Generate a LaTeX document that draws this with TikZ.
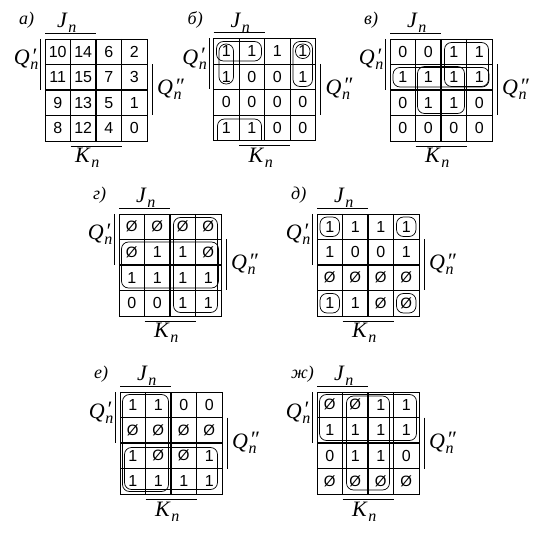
\documentclass[tikz,border=0pt]{standalone}
\usepackage{fontspec}
\setmainfont{Liberation Serif}
\newfontfamily\cellfont{Liberation Sans}
\newcommand{\E}{{\fontsize{15}{15}\selectfont Ø}}
\newcommand{\subn}{\raisebox{-5pt}{\fontsize{16}{16}\selectfont\textit{n}}}
\newcommand{\Jlab}{\textit{J}\kern0.5pt\subn}
\newcommand{\Klab}{\textit{K}\kern0.5pt\subn}
\newcommand{\Qa}{\textit{Q}\rlap{\kern1.5pt\raisebox{1.5pt}{\textit{′}}}\kern0.5pt\subn}
\newcommand{\Qb}{\textit{Q}\rlap{\kern1.5pt\raisebox{1.5pt}{\textit{″}}}\kern0.5pt\subn}
\tikzset{
  gthin/.style={line width=0.8pt},
  gthick/.style={line width=1.8pt},
  barst/.style={line width=0.9pt},
  loopst/.style={line width=0.7pt, rounded corners=7pt},
  cellv/.style={inner sep=0pt, font=\cellfont\fontsize{16}{16}\selectfont},
  lbl/.style={inner sep=0pt, font=\fontsize{22}{22}\selectfont},
  tag/.style={inner sep=0pt, font=\fontsize{18}{18}\selectfont\itshape}
}
% #1 ox, #2 oy, #3 prefix, #4 tag, #5 J/K shift, #6 values
\newcommand{\kmap}[6]{%
\begin{scope}[shift={(#1,#2)}]
  \draw[gthin] (0,0) rectangle (102,102);
  \foreach \k in {1,3} {
    \draw[gthin] (\k*25.5,0) -- (\k*25.5,102);
    \draw[gthin] (0,\k*25.5) -- (102,\k*25.5);
  }
  \draw[gthick] (51,0) -- (51,102);
  \draw[gthick] (0,51) -- (102,51);
  \foreach \v [count=\i from 0] in {#6} {
    \pgfmathtruncatemacro\rr{floor(\i/4)}
    \pgfmathtruncatemacro\cc{\i-4*\rr}
    \node[cellv] (#3-\i) at ({\cc*25.5+12.75},{\rr*25.5+12.75}) {\v};
  }
  \draw[barst] (0,-6) -- (51,-6);
  \draw[barst] (-4.5,0) -- (-4.5,51);
  \draw[barst] (107,25.5) -- (107,76.5);
  \draw[barst] (25.5,107) -- (76.5,107);
  \node[tag, anchor=base west] (#3-tag) at (-26,-14) {#4)};
  \node[lbl, anchor=base west] (#3-J) at ({17+#5},-11) {\Jlab};
  \node[lbl, anchor=base east] (#3-Q1) at (-6.5,26) {\Qa};
  \node[lbl, anchor=base west] (#3-Q2) at (112,56) {\Qb};
  \node[lbl, anchor=base west] (#3-K) at ({35+#5},124) {\Klab};
\end{scope}}
% loop: #1 ox #2 oy #3 c1 #4 r1 #5 c2 #6 r2 #7 inset
\newcommand{\lp}[7]{%
  \draw[loopst] ({#1+#3*25.5+#7},{#2+#4*25.5+#7}) rectangle ({#1+(#5+1)*25.5-#7},{#2+(#6+1)*25.5-#7});}
\begin{document}
\begin{tikzpicture}[x=1pt,y=-1pt]
\useasboundingbox (0,0) rectangle (546,534);
\fill[white] (0,0) rectangle (546,534);
% а
\kmap{45}{39}{a}{а}{-5}{10,14,6,2,11,15,7,3,9,13,5,1,8,12,4,0}
% б
\kmap{213.5}{38.5}{b}{б}{0}{1,1,1,1,1,0,0,1,0,0,0,0,1,1,0,0}
\lp{213.5}{38.5}{0}{0}{1}{0}{3}
\lp{213.5}{38.5}{0}{0}{0}{1}{5.5}
\lp{213.5}{38.5}{3}{0}{3}{1}{3}
\lp{213.5}{38.5}{3}{0}{3}{0}{5.5}
\draw[loopst] (217.5,140.5) -- (217.5,{38.5+3*25.5+4}) -- ({213.5+51-3},{38.5+3*25.5+4}) -- ({213.5+51-3},140.5);
% в
\kmap{390}{39}{v}{в}{0}{0,0,1,1,1,1,1,1,0,1,1,0,0,0,0,0}
\lp{390}{39}{2}{0}{3}{1}{3.5}
\lp{390}{39}{0}{1}{3}{1}{3}
\lp{390}{39}{1}{1}{2}{2}{2}
% г
\kmap{119}{214}{g}{г}{0}{\E,\E,\E,\E,\E,1,1,\E,1,1,1,1,0,0,1,1}
\lp{119}{214}{2}{0}{3}{3}{3.5}
\lp{119}{214}{0}{1}{3}{2}{2.5}
% д
\kmap{317}{214}{d}{д}{0}{1,1,1,1,1,0,0,1,\E,\E,\E,\E,1,1,\E,\E}
\lp{317}{214}{0}{0}{0}{0}{3}
\lp{317}{214}{3}{0}{3}{0}{3}
\lp{317}{214}{0}{3}{0}{3}{3}
\lp{317}{214}{3}{3}{3}{3}{3}
% е
\kmap{120}{392}{e}{е}{0}{1,1,0,0,\E,\E,\E,\E,1,\E,\E,1,1,1,1,1}
\lp{120}{392}{0}{0}{1}{3}{2.5}
\lp{120}{392}{0}{2}{3}{3}{4.5}
% ж
\kmap{317}{392}{zh}{ж}{0}{\E,\E,1,1,1,1,1,1,0,1,1,0,\E,\E,\E,\E}
\lp{317}{392}{0}{0}{3}{1}{2.5}
\lp{317}{392}{1}{0}{2}{3}{4}
\end{tikzpicture}
\end{document}
